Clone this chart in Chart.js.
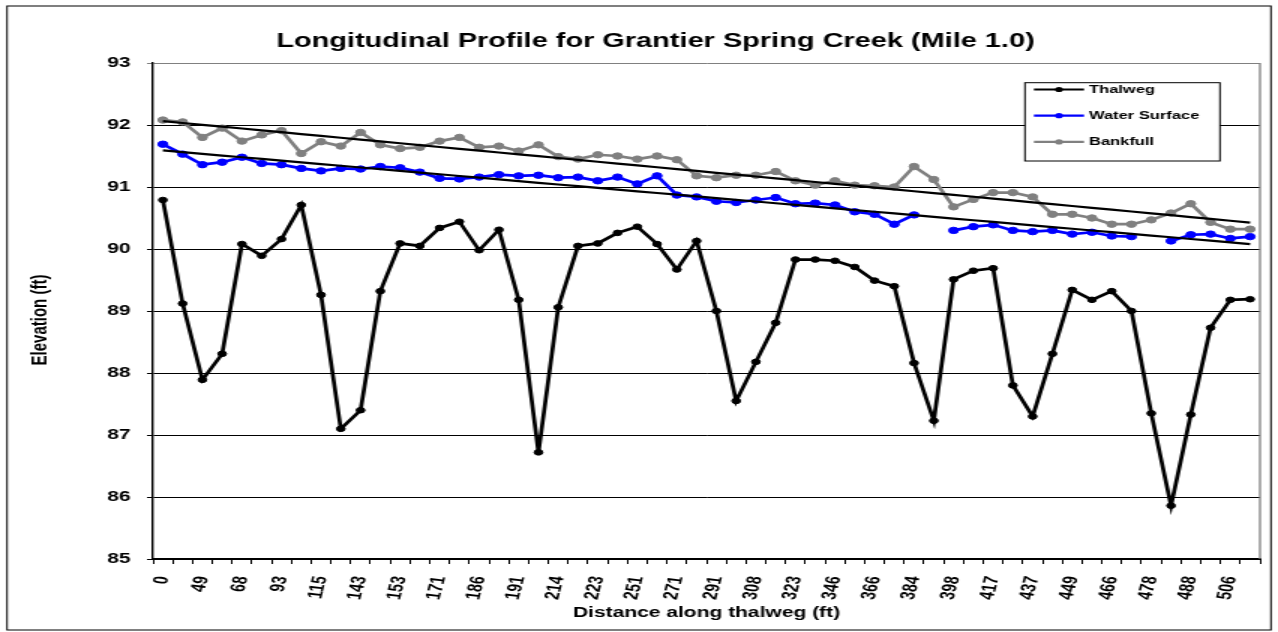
<!DOCTYPE html>
<html>
<head>
<meta charset="utf-8">
<title>Longitudinal Profile</title>
<script src="https://cdn.jsdelivr.net/npm/chart.js@4.4.1/dist/chart.umd.min.js"></script>
<style>
  html, body { margin: 0; padding: 0; background: #fff; overflow: hidden; }
  /* chart is laid out narrow and widened, so text and markers come out wide like the exported sheet */
  #wrap { position: absolute; left: 0; top: 0; width: 852px; height: 632px; transform: scaleX(1.5); transform-origin: 0 0; }
</style>
</head>
<body>
<div id="wrap"><canvas id="profileChart"></canvas></div>
<script>
// distance labels printed under every other station
const distanceLabels = ["0", "49", "68", "93", "115", "143", "153", "171", "186", "191", "214", "223", "251", "271",
    "291", "308", "323", "346", "366", "384", "398", "417", "437", "449", "466", "478", "488", "506"];

// elevations (ft) per station
const thalweg = [90.79, 89.12, 87.89, 88.31, 90.08, 89.89, 90.16, 90.71, 89.26, 87.10,
    87.40, 89.32, 90.09, 90.05, 90.34, 90.44, 89.98, 90.31, 89.18, 86.72,
    89.06, 90.05, 90.09, 90.26, 90.36, 90.08, 89.67, 90.13, 89.00, 87.55,
    88.18, 88.81, 89.83, 89.83, 89.81, 89.71, 89.49, 89.40, 88.16, 87.23,
    89.51, 89.65, 89.69, 87.80, 87.30, 88.31, 89.34, 89.18, 89.32, 89.00,
    87.35, 85.86, 87.33, 88.73, 89.18, 89.19];

const waterSurface = [91.69, 91.53, 91.36, 91.40, 91.48, 91.38, 91.36, 91.30, 91.26, 91.30,
    91.29, 91.33, 91.31, 91.24, 91.14, 91.13, 91.16, 91.20, 91.18, 91.19,
    91.15, 91.16, 91.10, 91.16, 91.05, 91.18, 90.87, 90.84, 90.77, 90.75,
    90.79, 90.83, 90.73, 90.74, 90.71, 90.60, 90.56, 90.40, 90.55, null,
    90.30, 90.36, 90.39, 90.30, 90.28, 90.30, 90.24, 90.27, 90.21, 90.20,
    null, 90.13, 90.23, 90.24, 90.17, 90.20];

const bankfull = [92.08, 92.05, 91.80, 91.95, 91.74, 91.84, 91.91, 91.54, 91.73, 91.66,
    91.88, 91.68, 91.62, 91.64, 91.74, 91.80, 91.64, 91.66, 91.58, 91.68,
    91.49, 91.45, 91.52, 91.50, 91.45, 91.50, 91.44, 91.18, 91.15, 91.19,
    91.19, 91.25, 91.10, 91.03, 91.10, 91.03, 91.02, 91.00, 91.33, 91.12,
    90.68, 90.80, 90.91, 90.91, 90.84, 90.56, 90.56, 90.50, 90.40, 90.40,
    90.47, 90.58, 90.73, 90.43, 90.32, 90.32];

const yTicks = [85, 86, 87, 88, 89, 90, 91, 92, 93];

// every station gets a slot, only even ones carry a label
const stations = distanceLabels.flatMap(d => [d, ""]);

const FONT = '"Liberation Sans", Arial, sans-serif';

// least squares line over station index, skipping blanks (same as a linear trendline)
function linearTrend(values) {
    const pts = values.map((v, i) => [i, v]).filter(p => p[1] !== null);
    const n = pts.length;
    const mx = pts.reduce((s, p) => s + p[0], 0) / n;
    const my = pts.reduce((s, p) => s + p[1], 0) / n;
    let sxy = 0, sxx = 0;
    pts.forEach(p => { sxy += (p[0] - mx) * (p[1] - my); sxx += (p[0] - mx) * (p[0] - mx); });
    const slope = sxy / sxx;
    return values.map((_, i) => my + slope * (i - mx));
}

function series(label, data, color, radius) {
    return {
        label, data,
        borderColor: color, backgroundColor: color,
        pointBackgroundColor: color, pointBorderColor: color,
        borderWidth: 2.7, pointRadius: radius, pointBorderWidth: 1,
        spanGaps: false, tension: 0, inLegend: true
    };
}

function trendLine(label, data) {
    return {
        label, data,
        borderColor: "#000", borderWidth: 2.2,
        pointRadius: 0, tension: 0, order: 0, inLegend: false
    };
}

const sheetDecor = {
    id: "sheetDecor",
    beforeDraw(chart) {
        const ctx = chart.ctx;
        ctx.save();
        ctx.fillStyle = "#fff";
        ctx.fillRect(0, 0, chart.width, chart.height);
        ctx.restore();
    },
    beforeDatasetsDraw(chart) {
        // grey right edge of the plot area
        const {ctx, chartArea} = chart;
        ctx.save();
        ctx.strokeStyle = "#808080";
        ctx.lineWidth = 1.3;
        ctx.beginPath();
        ctx.moveTo(chartArea.right, chartArea.top);
        ctx.lineTo(chartArea.right, chartArea.bottom);
        ctx.stroke();
        ctx.restore();
    },
    afterDraw(chart) {
        const ctx = chart.ctx;
        ctx.save();

        // outer frame
        ctx.strokeStyle = "#000";
        ctx.lineWidth = 1;
        ctx.strokeRect(4.7, 6, 842.6, 624);

        // title
        ctx.fillStyle = "#000";
        ctx.font = "bold 19.3px " + FONT;
        ctx.textAlign = "center";
        ctx.textBaseline = "middle";
        ctx.fillText("Longitudinal Profile for Grantier Spring Creek (Mile 1.0)", 437, 42);

        // vertical axis title, sits a little below the middle of the axis
        ctx.save();
        ctx.translate(27, 320);
        ctx.rotate(-Math.PI / 2);
        ctx.font = "bold 15px " + FONT;
        ctx.fillText("Elevation (ft)", 0, 0);
        ctx.restore();

        // legend box
        const box = {x: 683.3, y: 82.7, w: 130, h: 78.3};
        ctx.fillStyle = "#fff";
        ctx.fillRect(box.x, box.y, box.w, box.h);
        ctx.strokeStyle = "#000";
        ctx.lineWidth = 1;
        ctx.strokeRect(box.x, box.y, box.w, box.h);

        const rows = chart.data.datasets.filter(ds => ds.inLegend);
        rows.forEach((ds, i) => {
            const y = 89.5 + i * 26.2;
            ctx.strokeStyle = ds.borderColor;
            ctx.lineWidth = 2.2;
            ctx.beginPath();
            ctx.moveTo(689.3, y);
            ctx.lineTo(722.7, y);
            ctx.stroke();
            ctx.fillStyle = ds.borderColor;
            ctx.beginPath();
            ctx.arc(706, y, 2.6, 0, Math.PI * 2);
            ctx.fill();
            ctx.fillStyle = "#000";
            ctx.font = "bold 11px " + FONT;
            ctx.textAlign = "left";
            ctx.textBaseline = "middle";
            ctx.fillText(ds.label, 726, y + 0.5);
        });
        ctx.restore();
    }
};

const waterTrend = linearTrend(waterSurface);
const bankTrend = linearTrend(bankfull);

new Chart(document.getElementById("profileChart"), {
    type: "line",
    data: {
        labels: stations,
        datasets: [
            {...series("Thalweg", thalweg, "#000000", 2.8), order: 3},
            {...series("Water Surface", waterSurface, "#0000ff", 3.2), order: 2},
            {...series("Bankfull", bankfull, "#808080", 3.2), order: 1},
            trendLine("Linear (Water Surface)", waterTrend),
            trendLine("Linear (Bankfull)", bankTrend)
        ]
    },
    options: {
        responsive: true,
        maintainAspectRatio: false,
        animation: false,
        layout: {padding: {top: 63, right: 12, bottom: 0, left: 0}},
        plugins: {
            legend: {display: false},
            title: {display: false},
            tooltip: {enabled: false}
        },
        scales: {
            x: {
                type: "category",
                offset: true,
                afterFit: axis => {
                    axis.height = 73;
                    // rotated labels fit inside the frame, no extra side room needed
                    axis.paddingLeft = 0;
                    axis.paddingRight = 0;
                },
                grid: {offset: true, drawOnChartArea: false, color: "#000", tickLength: 5, lineWidth: 1},
                border: {color: "#000", width: 2},
                ticks: {
                    autoSkip: false, minRotation: 80, maxRotation: 80, padding: 11,
                    color: "#000", font: {family: FONT, size: 14, weight: "bold"}
                },
                title: {
                    display: true, text: "Distance along thalweg (ft)", color: "#000",
                    font: {family: FONT, size: 14, weight: "bold"}, padding: {top: 0, bottom: 10}
                }
            },
            y: {
                min: 85, max: 93,
                afterFit: axis => { axis.width = 102; },
                afterBuildTicks: axis => { axis.ticks = yTicks.map(v => ({value: v})); },
                grid: {
                    color: c => (c.tick && c.tick.value === 93 ? "#808080" : "#000"),
                    lineWidth: 1, tickLength: 4
                },
                border: {color: "#000", width: 1.4},
                ticks: {padding: 11, color: "#000", font: {family: FONT, size: 14, weight: "bold"}}
            }
        }
    },
    plugins: [sheetDecor]
});
</script>
</body>
</html>
